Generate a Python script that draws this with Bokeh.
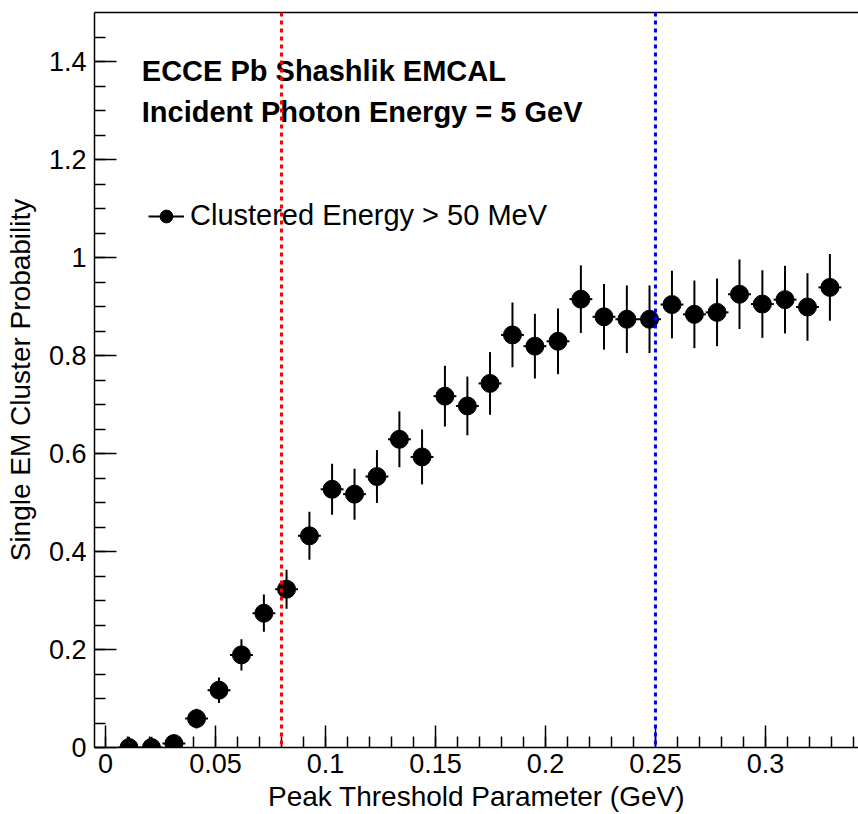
from bokeh.plotting import figure
from bokeh.models import (Range1d, SingleIntervalTicker, FixedTicker, CustomJSTickFormatter, Span,
                          Label, Legend, LegendItem, LinearAxis, ColumnDataSource)
from bokeh.embed import file_html
from bokeh.resources import INLINE

# ---- data ----
threshold = [0.0107, 0.0209, 0.0311, 0.0414, 0.0516, 0.0618, 0.0720, 0.0823,
             0.0927, 0.1030, 0.1132, 0.1234, 0.1336, 0.1439, 0.1543, 0.1645,
             0.1748, 0.1850, 0.1952, 0.2057, 0.2161, 0.2266, 0.2370, 0.2473,
             0.2575, 0.2677, 0.2780, 0.2882, 0.2986, 0.3089, 0.3191, 0.3293]
probability = [0.0, 0.0, 0.008, 0.059, 0.117, 0.189, 0.274, 0.323,
               0.432, 0.527, 0.517, 0.553, 0.629, 0.593, 0.717, 0.697,
               0.743, 0.842, 0.819, 0.829, 0.915, 0.879, 0.874, 0.874,
               0.904, 0.884, 0.888, 0.925, 0.905, 0.914, 0.899, 0.939]
prob_err = [0.022, 0.022, 0.015, 0.020, 0.026, 0.032, 0.038, 0.040,
            0.049, 0.052, 0.052, 0.054, 0.057, 0.056, 0.062, 0.060,
            0.064, 0.066, 0.066, 0.067, 0.069, 0.067, 0.069, 0.069,
            0.069, 0.069, 0.069, 0.071, 0.069, 0.069, 0.069, 0.068]
bin_half_width = 0.0052
red_cut = 0.08
blue_cut = 0.25
title_lines = ["ECCE Pb Shashlik EMCAL", "Incident Photon Energy = 5 GeV"]
legend_label = "Clustered Energy > 50 MeV"
x_title = "Peak Threshold Parameter (GeV)"
y_title = "Single EM Cluster Probability"

FONT = "Liberation Sans"

src = ColumnDataSource(dict(
    x=threshold, y=probability,
    ylo=[v - e for v, e in zip(probability, prob_err)],
    yhi=[v + e for v, e in zip(probability, prob_err)],
    xlo=[x - bin_half_width for x in threshold],
    xhi=[x + bin_half_width for x in threshold],
))

p = figure(width=858, height=814, output_backend="svg", toolbar_location=None,
           x_range=Range1d(-0.005, 0.3423), y_range=Range1d(0, 1.5),
           min_border_left=94, min_border_right=0, min_border_top=12, min_border_bottom=66,
           background_fill_color="white", border_fill_color="white")
p.outline_line_color = None
p.xgrid.visible = False
p.ygrid.visible = False

vbar = p.segment(x0="x", y0="ylo", x1="x", y1="yhi", source=src, line_color="black", line_width=2)
hbar = p.segment(x0="xlo", y0="y", x1="xhi", y1="y", source=src, line_color="black", line_width=2)
pts = p.scatter("x", "y", source=src, marker="circle", size=18, fill_color="black", line_color="black")

for ax, interval, nminor in ((p.xaxis[0], 0.05, 5), (p.yaxis[0], 0.2, 4)):
    ax.ticker = SingleIntervalTicker(interval=interval, num_minor_ticks=nminor)
    ax.formatter = CustomJSTickFormatter(code="return String(Number(tick.toFixed(4)));")
    ax.major_tick_in = 22
    ax.major_tick_out = 0
    ax.minor_tick_in = 11
    ax.minor_tick_out = 0
    ax.major_tick_line_color = "black"
    ax.minor_tick_line_color = "black"
    ax.major_tick_line_width = 1.5
    ax.minor_tick_line_width = 1.5
    ax.axis_line_width = 1.5
    ax.axis_line_color = "black"
    ax.major_label_text_font = FONT
    ax.major_label_text_font_size = "27px"
    ax.major_label_text_color = "black"
    ax.axis_label_text_font = FONT
    ax.axis_label_text_font_size = "28px"
    ax.axis_label_text_font_style = "normal"
    ax.axis_label_text_color = "black"

p.xaxis[0].axis_label = x_title
p.xaxis[0].major_label_standoff = 6
p.xaxis[0].axis_label_standoff = 5
p.yaxis[0].axis_label = y_title
p.yaxis[0].major_label_standoff = 8
p.yaxis[0].axis_label_standoff = 10

# top frame border (no ticks, no labels)
top_axis = LinearAxis(ticker=FixedTicker(ticks=[]), major_tick_line_color=None,
                      minor_tick_line_color=None, major_label_standoff=0,
                      axis_line_width=1.5, axis_line_color="black")
p.add_layout(top_axis, "above")

for txt, yv in zip(title_lines, [1.381, 1.297]):
    p.add_layout(Label(x=0.0165, y=yv, text=txt, text_font=FONT, text_font_style="bold",
                       text_font_size="29px", text_color="black", text_baseline="alphabetic",
                       text_align="left"))

legend = Legend(items=[LegendItem(label=legend_label, renderers=[hbar, pts])],
                location=(54, 515), glyph_width=36, glyph_height=32, label_standoff=6,
                padding=0, margin=0, spacing=0, border_line_color=None,
                background_fill_alpha=0, label_text_font=FONT, label_text_font_size="29px",
                label_text_color="black", label_height=32)
p.add_layout(legend)

p.add_layout(Span(location=red_cut, dimension="height", line_color="#ff0000",
                  line_dash="4 4", line_width=3))
p.add_layout(Span(location=blue_cut, dimension="height", line_color="#0000ff",
                  line_dash="4 4", line_width=3))

open("out.html", "w").write(file_html(p, INLINE))
